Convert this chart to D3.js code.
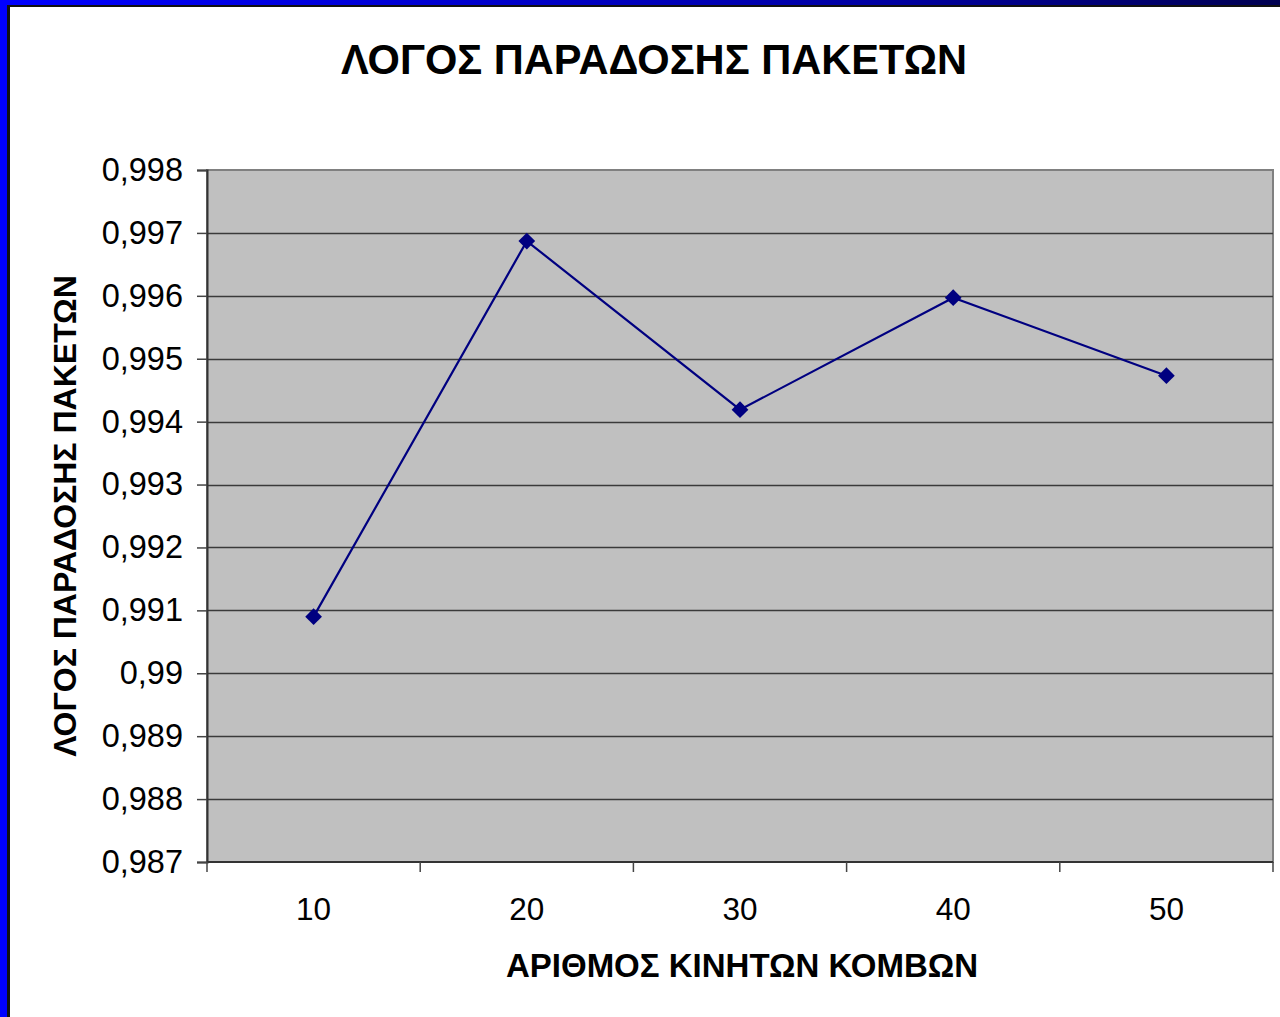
<!DOCTYPE html>
<html>
<head>
<meta charset="utf-8">
<script src="https://cdn.jsdelivr.net/npm/d3@7"></script>
<style>
  body { margin: 0; background: #fff; }
  svg { display: block; font-family: "Liberation Sans", Arial, sans-serif; }
</style>
</head>
<body>
<div id="chart-area"></div>
<script>
// data
var nodes = ["10", "20", "30", "40", "50"];
var ratio = [0.99090, 0.99687, 0.99419, 0.99597, 0.99473];
var yTicks = [0.987, 0.988, 0.989, 0.99, 0.991, 0.992, 0.993, 0.994, 0.995, 0.996, 0.997, 0.998];

var W = 1280, H = 1017;
var pLeft = 207, pRight = 1273, pTop = 170, pBottom = 862;

var svg = d3.select("#chart-area").append("svg")
	.attr("width", W)
	.attr("height", H);

// frame (slide border)
var grad = svg.append("defs").append("linearGradient").attr("id", "topbar");
grad.append("stop").attr("offset", "0").attr("stop-color", "#0000ff");
grad.append("stop").attr("offset", "0.7").attr("stop-color", "#0000a0");
grad.append("stop").attr("offset", "1").attr("stop-color", "#000050");
svg.append("rect").attr("x", 0).attr("y", 0).attr("width", W).attr("height", 5).attr("fill", "url(#topbar)");
svg.append("rect").attr("x", 0).attr("y", 0).attr("width", 7).attr("height", H).attr("fill", "#0000ff");
svg.append("rect").attr("x", 7).attr("y", 5).attr("width", W - 7).attr("height", 2).attr("fill", "#111");
svg.append("rect").attr("x", 7).attr("y", 5).attr("width", 3).attr("height", H).attr("fill", "#111");

var x = d3.scaleBand().domain(nodes).range([pLeft, pRight]);
var y = d3.scaleLinear().domain([0.987, 0.998]).range([pBottom, pTop]);

// plot area
svg.append("rect").attr("x", pLeft).attr("y", pTop).attr("width", pRight - pLeft).attr("height", pBottom - pTop)
	.attr("fill", "#c0c0c0").attr("stroke", "#808080").attr("stroke-width", 2);

// grid lines
svg.append("g").selectAll("line").data(yTicks.slice(1, -1)).join("line")
	.attr("x1", pLeft).attr("x2", pRight)
	.attr("y1", function(d) { return Math.round(y(d)) + 0.5; })
	.attr("y2", function(d) { return Math.round(y(d)) + 0.5; })
	.attr("stroke", "#3a3a3a").attr("stroke-width", 1.3);

// y axis
var yAxis = svg.append("g").attr("transform", "translate(" + pLeft + ",0)")
	.call(d3.axisLeft(y).tickValues(yTicks).tickSize(10).tickPadding(14)
		.tickFormat(function(d) { return String(+d.toFixed(3)).replace(".", ","); }));
yAxis.select(".domain").attr("stroke", "#333").attr("stroke-width", 2);
yAxis.selectAll(".tick line").attr("stroke", "#444").attr("stroke-width", 1.5);
yAxis.selectAll("text").attr("font-size", 32.5).attr("fill", "#000").attr("font-family", "Liberation Sans, Arial, sans-serif");

// x axis: ticks between categories
var xAxis = svg.append("g").attr("transform", "translate(0," + pBottom + ")");
xAxis.append("line").attr("x1", pLeft).attr("x2", pRight).attr("y1", 0).attr("y2", 0)
	.attr("stroke", "#333").attr("stroke-width", 2);
var edges = nodes.map(function(d) { return x(d); }).concat([pRight]);
xAxis.selectAll("line.tk").data(edges).join("line").attr("class", "tk")
	.attr("x1", function(d) { return d; }).attr("x2", function(d) { return d; })
	.attr("y1", 0).attr("y2", 10).attr("stroke", "#444").attr("stroke-width", 1.5);
xAxis.selectAll("text").data(nodes).join("text")
	.attr("x", function(d) { return x(d) + x.bandwidth() / 2; })
	.attr("y", 58).attr("text-anchor", "middle").attr("font-size", 31.5).text(function(d) { return d; });

// series line
var line = d3.line()
	.x(function(d, i) { return x(nodes[i]) + x.bandwidth() / 2; })
	.y(function(d) { return y(d); });
svg.append("path").datum(ratio).attr("d", line)
	.attr("fill", "none").attr("stroke", "#000080").attr("stroke-width", 2.2);

// diamond markers
svg.append("g").selectAll("path").data(ratio).join("path")
	.attr("d", d3.symbol().type(d3.symbolSquare).size(140))
	.attr("transform", function(d, i) {
		return "translate(" + (x(nodes[i]) + x.bandwidth() / 2) + "," + y(d) + ") rotate(45)";
	})
	.attr("fill", "#000080");

// titles
svg.append("text").attr("x", 654).attr("y", 74).attr("text-anchor", "middle")
	.attr("font-size", 41.6).attr("font-weight", "bold").text("ΛΟΓΟΣ ΠΑΡΑΔΟΣΗΣ ΠΑΚΕΤΩΝ");
svg.append("text").attr("x", 742).attr("y", 977).attr("text-anchor", "middle")
	.attr("font-size", 33).attr("font-weight", "bold").text("ΑΡΙΘΜΟΣ ΚΙΝΗΤΩΝ ΚΟΜΒΩΝ");
svg.append("text").attr("transform", "translate(76,516) rotate(-90)").attr("text-anchor", "middle")
	.attr("font-size", 32).attr("font-weight", "bold").text("ΛΟΓΟΣ ΠΑΡΑΔΟΣΗΣ ΠΑΚΕΤΩΝ");
</script>
</body>
</html>
